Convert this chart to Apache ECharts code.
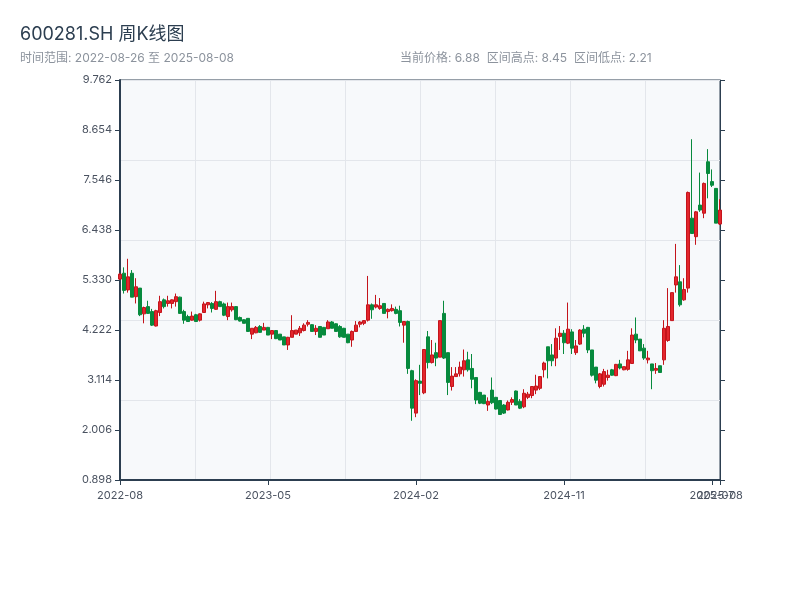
<!DOCTYPE html>
<html>
<head>
<meta charset="utf-8">
<script src="https://cdn.jsdelivr.net/npm/echarts@6/dist/echarts.min.js"></script>
<style>html,body{margin:0;padding:0;background:#fff}#c{width:800px;height:600px}</style>
</head>
<body>
<div id="c"></div>
<script>
const dates = [
'2022-08-26','2022-09-02','2022-09-09','2022-09-16','2022-09-23','2022-09-30','2022-10-14','2022-10-21','2022-10-28','2022-11-04',
'2022-11-11','2022-11-18','2022-11-25','2022-12-02','2022-12-09','2022-12-16','2022-12-23','2022-12-30','2023-01-06','2023-01-13',
'2023-01-20','2023-02-03','2023-02-10','2023-02-17','2023-02-24','2023-03-03','2023-03-10','2023-03-17','2023-03-24','2023-03-31',
'2023-04-07','2023-04-14','2023-04-21','2023-04-28','2023-05-05','2023-05-12','2023-05-19','2023-05-26','2023-06-02','2023-06-09',
'2023-06-16','2023-06-21','2023-06-30','2023-07-07','2023-07-14','2023-07-21','2023-07-28','2023-08-04','2023-08-11','2023-08-18',
'2023-08-25','2023-09-01','2023-09-08','2023-09-15','2023-09-22','2023-09-28','2023-10-13','2023-10-20','2023-10-27','2023-11-03',
'2023-11-10','2023-11-17','2023-11-24','2023-12-01','2023-12-08','2023-12-15','2023-12-22','2023-12-29','2024-01-05','2024-01-12',
'2024-01-19','2024-01-26','2024-02-02','2024-02-08','2024-02-23','2024-03-01','2024-03-08','2024-03-15','2024-03-22','2024-03-29',
'2024-04-03','2024-04-12','2024-04-19','2024-04-26','2024-04-30','2024-05-10','2024-05-17','2024-05-24','2024-05-31','2024-06-07',
'2024-06-14','2024-06-21','2024-06-28','2024-07-05','2024-07-12','2024-07-19','2024-07-26','2024-08-02','2024-08-09','2024-08-16',
'2024-08-23','2024-08-30','2024-09-06','2024-09-13','2024-09-20','2024-09-27','2024-09-30','2024-10-11','2024-10-18','2024-10-25',
'2024-11-01','2024-11-08','2024-11-15','2024-11-22','2024-11-29','2024-12-06','2024-12-13','2024-12-20','2024-12-27','2025-01-03',
'2025-01-10','2025-01-17','2025-01-24','2025-01-27','2025-02-07','2025-02-14','2025-02-21','2025-02-28','2025-03-07','2025-03-14',
'2025-03-21','2025-03-28','2025-04-03','2025-04-11','2025-04-18','2025-04-25','2025-04-30','2025-05-09','2025-05-16','2025-05-23',
'2025-05-30','2025-06-06','2025-06-13','2025-06-20','2025-06-27','2025-07-04','2025-07-11','2025-07-18','2025-07-25','2025-08-01',
'2025-08-08'
];
const openP = [
5.35,5.48,5.11,5.48,4.96,5.15,4.58,4.74,4.63,4.31,
4.61,4.89,4.81,4.81,4.85,4.95,4.63,4.52,4.44,4.56,
4.44,4.61,4.78,4.81,4.68,4.85,4.80,4.52,4.67,4.74,
4.50,4.45,4.48,4.13,4.16,4.30,4.22,4.28,4.13,4.21,
4.13,4.07,3.89,4.06,4.13,4.16,4.21,4.35,4.34,4.19,
4.30,4.28,4.25,4.40,4.36,4.30,4.26,4.13,4.00,4.19,
4.35,4.37,4.44,4.78,4.73,4.70,4.81,4.63,4.65,4.68,
4.65,4.33,4.41,3.32,2.38,3.09,2.83,4.07,3.50,3.72,
3.62,4.59,3.72,2.97,3.19,3.25,3.34,3.56,3.37,3.17,
2.84,2.78,2.56,2.89,2.73,2.66,2.56,2.45,2.62,2.87,
2.64,2.52,2.73,2.77,2.89,2.93,3.34,3.85,3.67,3.60,
4.08,4.15,3.93,4.18,3.72,3.91,4.24,4.28,3.78,3.40,
2.97,3.02,3.17,3.34,3.21,3.47,3.34,3.35,3.48,4.13,
4.02,3.82,3.56,3.47,3.33,3.43,3.56,3.99,4.43,5.22,
5.29,4.89,5.15,6.70,6.29,6.99,6.81,7.95,7.51,7.36,
6.57
];
const closeP = [
5.46,5.10,5.40,4.95,5.18,4.56,4.72,4.59,4.33,4.65,
4.85,4.74,4.87,4.89,4.96,4.59,4.44,4.41,4.53,4.41,
4.58,4.80,4.83,4.70,4.85,4.74,4.55,4.74,4.74,4.45,
4.42,4.37,4.19,4.26,4.28,4.17,4.28,4.11,4.21,4.03,
4.00,3.89,4.06,4.21,4.22,4.26,4.33,4.39,4.19,4.26,
4.06,4.11,4.40,4.26,4.19,4.07,4.06,3.94,4.19,4.33,
4.40,4.43,4.78,4.67,4.78,4.76,4.59,4.68,4.70,4.59,
4.39,4.41,3.37,2.49,3.10,3.04,3.79,3.50,3.67,3.60,
4.43,3.60,3.06,3.20,3.25,3.40,3.54,3.34,3.13,2.67,
2.60,2.59,2.64,2.61,2.47,2.35,2.38,2.62,2.68,2.56,
2.49,2.82,2.80,2.97,2.98,3.19,3.49,3.54,3.54,4.04,
4.15,3.94,4.24,3.82,3.87,4.22,4.15,3.78,3.22,3.11,
3.25,3.30,3.22,3.22,3.46,3.38,3.41,3.56,4.11,4.00,
3.76,3.60,3.60,3.32,3.37,3.28,4.26,4.30,5.05,5.40,
4.78,5.12,7.27,6.36,6.84,6.88,7.47,7.69,7.43,6.59,
6.88
];
const lowP = [
5.33,5.03,5.05,4.95,4.81,4.53,4.37,4.58,4.31,4.30,
4.53,4.70,4.74,4.70,4.74,4.58,4.36,4.41,4.43,4.41,
4.41,4.61,4.70,4.61,4.67,4.74,4.53,4.44,4.63,4.44,
4.41,4.37,4.18,4.02,4.15,4.16,4.22,4.11,4.02,4.02,
4.00,3.89,3.78,4.06,4.13,4.09,4.19,4.30,4.19,4.11,
4.06,4.11,4.25,4.26,4.19,4.05,4.06,3.93,3.85,4.19,
4.28,4.33,4.41,4.47,4.70,4.67,4.59,4.48,4.63,4.57,
4.30,3.94,3.25,2.21,2.29,2.78,2.80,3.37,3.48,3.42,
3.62,3.58,2.78,2.88,3.19,3.19,3.19,3.30,2.93,2.58,
2.58,2.58,2.43,2.58,2.46,2.34,2.36,2.44,2.56,2.56,
2.47,2.49,2.69,2.71,2.80,2.89,3.17,3.15,3.42,3.42,
3.78,3.69,3.91,3.69,3.67,3.89,4.06,3.71,3.19,3.04,
2.93,2.97,3.10,3.21,3.20,3.35,3.33,3.32,3.47,3.93,
3.76,3.56,3.48,2.91,3.25,3.28,3.45,3.96,4.43,5.05,
4.74,4.87,5.05,6.36,6.11,6.84,6.70,7.14,7.39,6.59,
6.55
];
const highP = [
5.48,5.61,5.80,5.55,5.37,5.15,4.74,4.87,4.69,4.67,
4.98,4.92,4.98,4.90,5.03,4.96,4.67,4.56,4.63,4.58,
4.59,4.85,4.84,4.84,5.09,4.87,4.83,4.83,4.83,4.75,
4.52,4.46,4.48,4.26,4.31,4.33,4.38,4.29,4.22,4.22,
4.13,4.07,4.07,4.55,4.22,4.31,4.37,4.44,4.35,4.33,
4.31,4.29,4.44,4.42,4.37,4.33,4.27,4.13,4.21,4.42,
4.42,4.44,5.42,4.81,5.00,4.93,4.81,4.70,4.79,4.74,
4.76,4.42,4.43,3.34,3.13,3.45,3.80,4.20,4.00,3.94,
4.43,4.87,3.72,3.40,3.40,3.52,3.79,3.74,3.69,3.17,
2.85,2.78,2.73,3.17,2.74,2.66,2.58,2.66,2.73,2.88,
2.69,2.91,2.85,2.98,3.23,3.20,3.52,3.85,3.91,4.26,
4.31,4.22,4.83,4.24,4.00,4.24,4.33,4.29,3.78,3.40,
3.27,3.36,3.34,3.36,3.47,3.56,3.41,3.76,4.26,4.50,
4.02,3.91,3.76,3.47,3.49,3.43,4.44,5.15,5.05,6.13,
5.66,5.37,7.29,8.45,6.86,7.71,7.49,8.23,7.78,7.36,
7.12
];
const yMin = 0.898, yMax = 9.762;
const titleText = '600281.SH 周K线图';
const rangeText = '时间范围: 2022-08-26 至 2025-08-08';
const infoText = '当前价格: 6.88  区间高点: 8.45  区间低点: 2.21';

const kData = dates.map((d, i) => [openP[i], closeP[i], lowP[i], highP[i]]);
const lastIdx = dates.length - 1;
const FONT = 'Inter, Noto Sans CJK SC, sans-serif';
const AX = '#2c3e50';
const yInt = (yMax - yMin) / 8;
const showIdx = (i) => i % 37 === 0 || i === lastIdx;

const chart = echarts.init(document.getElementById('c'), null, {renderer: 'canvas'});
chart.setOption({
  animation: false,
  backgroundColor: '#ffffff',
  textStyle: {fontFamily: FONT},
  title: [
    {text: titleText, left: 20, top: 26, padding: 0, textStyle: {fontSize: 18, fontWeight: 'normal', color: '#2c3e50', fontFamily: FONT}},
    {text: rangeText, left: 20, top: 52.5, padding: 0, textStyle: {fontSize: 12, fontWeight: 'normal', color: '#8c939d', fontFamily: FONT}},
    {text: infoText, left: 400, top: 52.5, padding: 0, textStyle: {fontSize: 12, fontWeight: 'normal', color: '#8c939d', fontFamily: FONT}}
  ],
  grid: {left: 120, right: 80, top: 80, bottom: 120, show: true, backgroundColor: '#f7f9fb', borderColor: AX, borderWidth: 1},
  xAxis: [
    {
      type: 'category', data: dates, boundaryGap: false,
      axisLine: {lineStyle: {color: AX, width: 2}},
      axisTick: {interval: showIdx, lineStyle: {color: AX}},
      axisLabel: {interval: 0, showMinLabel: true, showMaxLabel: true, hideOverlap: false,
        formatter: (v, i) => showIdx(i) ? v.slice(0, 7) : '', color: '#4a5260', fontSize: 11, margin: 10},
      splitLine: {show: false}
    },
    {
      type: 'value', min: 0, max: 8, interval: 1, position: 'top',
      axisLine: {show: false}, axisTick: {show: false}, axisLabel: {show: false},
      splitLine: {show: true, lineStyle: {color: '#e3e6eb', width: 1}}
    }
  ],
  yAxis: [
    {
      type: 'value', min: yMin, max: yMax, interval: yInt, position: 'left',
      axisLine: {show: true, lineStyle: {color: AX, width: 2}},
      axisTick: {show: true, lineStyle: {color: AX}},
      axisLabel: {color: '#4a5260', fontSize: 11, formatter: (v) => v.toFixed(3)},
      splitLine: {show: false}
    },
    {
      type: 'value', min: yMin, max: yMax, interval: yInt, position: 'right',
      axisLine: {show: true, lineStyle: {color: AX, width: 1}},
      axisTick: {show: true, lineStyle: {color: AX}},
      axisLabel: {show: false},
      splitLine: {show: false}
    },
    {
      type: 'value', min: 0, max: 5, interval: 1, position: 'left',
      axisLine: {show: false}, axisTick: {show: false}, axisLabel: {show: false},
      splitLine: {show: true, lineStyle: {color: '#e3e6eb', width: 1}}
    }
  ],
  series: [{
    type: 'candlestick',
    xAxisIndex: 0, yAxisIndex: 0,
    data: kData,
    clip: false,
    barWidth: 2.6,
    itemStyle: {color: '#e3262d', color0: '#078a3d', borderColor: '#c4141b', borderColor0: '#078a3d', borderWidth: 1}
  }]
});
</script>
</body>
</html>
